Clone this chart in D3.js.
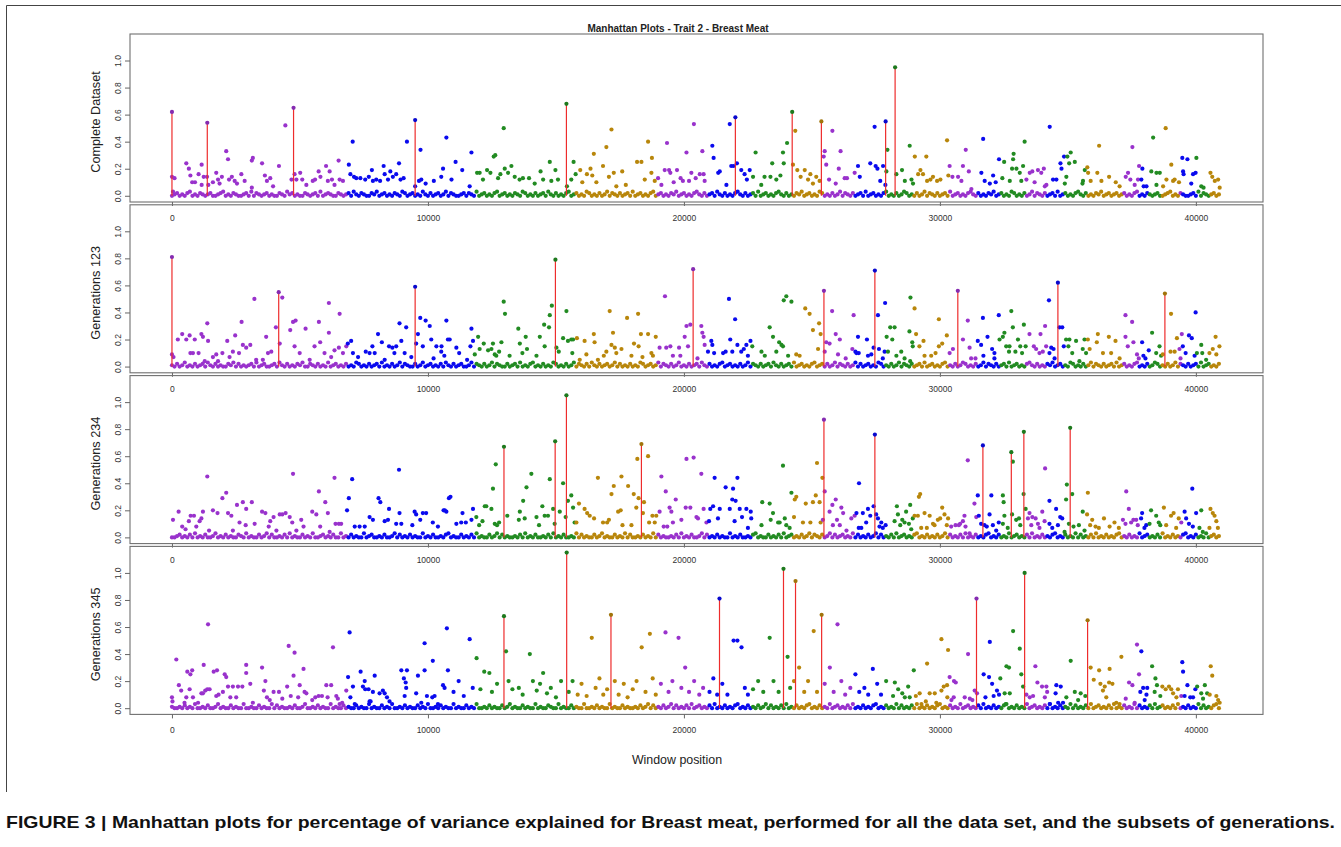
<!DOCTYPE html>
<html><head><meta charset="utf-8">
<script src="https://cdn.jsdelivr.net/npm/d3@7"></script>
<style>body{margin:0;background:#fff}svg{display:block}</style>
</head><body>
<svg id="c" width="1341" height="847"></svg>
<script>
// ---------- DATA ----------
const chartTitle = "Manhattan Plots - Trait 2 - Breast Meat";
const xTitle = "Window position";
const caption = "FIGURE 3 | Manhattan plots for percentage of variance explained for Breast meat, performed for all the data set, and the subsets of generations.";
const panelNames = ["Complete Dataset", "Generations 123", "Generations 234", "Generations 345"];
const xTicks = [0, 10000, 20000, 30000, 40000];
const yTicks = [0, 0.2, 0.4, 0.6, 0.8, 1.0];
const xRange = [0, 40983];
const yRange = [0, 1.15];
// chromosome start windows and colour index (0 purple,1 blue,2 green,3 gold)
const chromStarts = [0, 6810, 11820, 15800, 18970, 20930, 22650, 24250, 25420, 26700, 27900, 29000, 30380, 31460, 32330, 33360, 34200, 34870, 35740, 37130, 37800, 38190, 38660, 39360, 39470, 40020, 40530];
const chromColorIdx = [0, 1, 2, 3, 0, 1, 2, 3, 0, 1, 2, 3, 0, 1, 2, 0, 1, 2, 3, 0, 1, 2, 3, 0, 1, 2, 3];
const palette = ["#9932CC", "#0a0aee", "#228B22", "#B8860B"];

// dense low band: one digit (hundredths) per 100 windows
const base1 = `0120102301 0210120012 3010210012 0302101201 0021031201 0021012030
1210021012 0310210021 3012010210 3201201031 0201201302 1001202103
0120102301 2010210320 1020120310 2010230120 1032010201 3021020120
3012010230 1201021301 2010231020 1203102010 2310201203 0120102310
2010213012 0103201020 1302102012 0301201023 0102013201 0201302102
0120301201 0231020102 1301201032 0102013021 0201203012 0102310201
0213012012 0120102301 0210120012 3010210012 0302101201 0021031201`;
const base2 = `1020130102 0120310201 0021302010 1203012001 2031020102 1300210201
0301201020 1032010201 2030102013 0210020130 1201020310 2012001302
1020130210 0201203010 2301020103 2010201302 1020310201 2013020102
0103201201 3021020130 1020120310 2010230120 1020130210 2012031020
1203012010 2301202013 0210201302 0120103201 0201302102 0120301201
0230102013 2010201302 1020120301 2010231020 1021301201 0320102013
0210201203 0120102301 0201320102 0130210201 2030120102 3102010213`;
const base3 = `0012010203 0102001301 0201002103 0100201302 0010203010 0201030012
0102003010 2010030120 0102001302 0102010030 1020010230 1002010203
0100201302 0100102030 1020010203 0102001030 2010020130 1002010302
0010201030 2010010203 0102001302 0102010030 1020010230 1002010203
0120102013 0210201302 0120103020 1020130201 0203012010 2301020102
0130201020 3010201023 0102010301 2010203010 2010230102 0103020102
0301020102 3010201030 1201020301 0201023010 2010301201 0203010201`;
const base4 = `1001020103 0010200130 1002010030 0100201003 0201001020 0130010201
0030100201 0020100301 0020103001 0201002010 3001020100 3010020103
0010201002 0130100201 0030100210 0301002010 0300102010 0301002010
0102013020 1020130201 0203012010 2030102010 2301020102 0130201020
3010201023 0102010301 2010203010 2010230102 0103020102 0301020102
3010201030 1201020301 0201023010 2010301201 0203010201 0302010203
0120102030 1020103020 1020301201 0203010201 0302010230 1020103020`;

// scattered windows: pairs [position/100, value*100]
const pts1 = [0,14,0.4,3,1,13,5.6,24,6.6,20,7.2,15,7.9,10,9,10,10.4,16,11.6,23,12.4,14,11.6,8,13.7,14,14.2,8,16,10,17.3,17,18,12,18.6,9,19.5,14,21.2,33,21.9,27,22.3,12,23.4,14,24.5,11,25.4,9,27.1,16,28.4,11,31.2,26,31.6,28,31.2,6,35.2,24,36.3,15,37.1,11,38.4,13,39.5,7,41.8,22,44.3,52,46.7,12,47.9,16,48.6,12,50.1,17,50.9,12,52.5,8,55,11,55.9,12,57.3,18,58,14,60.2,22,61.6,18,60.9,11,62.5,12,63.5,8,65.1,26,65.5,12,66.8,11,
69.1,23,69.7,16,70.6,40,71.1,14,72,13,73.6,13,75.5,12,76.9,14,78.1,19,78.5,11,79.8,12,81.3,11,82.7,22,83.1,16,84.4,12,85.3,18,86.3,14,87.6,16,88.7,24,89.3,12,90.5,13,91.8,40,95,7,96.5,11,97.1,34,97.4,12,99.1,9,102.3,11,105.2,14,105.9,20,107.2,43,
109.2,12,110.8,25,113.4,19,117,32,116.3,7,119.2,17,120.2,17,121.5,12,123.1,19,124.4,17,125.7,29,126.3,30,127.4,13,128.3,16,129.6,50,130,20,132.6,22,131.3,17,133.9,14,135.8,12,137.1,13,139.5,13,141.7,9,144,18,145,12,147.6,25,148.2,11,149.8,19,150.8,12,154.3,7,156,12,156.9,25,157.7,16,
159.5,19,160.3,10,162.1,16,163.5,20,164.2,15,164.8,31,165.8,10,168.4,22,169.7,36,170.7,14,171.7,49,172.6,17,173.6,7,175.9,18,177.3,8,181.7,25,183.4,25,184.7,12,186,40,187.3,17,187.5,28,188.6,11,
189.9,13,191.2,8,192.5,19,193.4,39,194.2,19,194.7,17,196,10,197.3,19,198.7,13,199.6,11,201,32,202,11,202.9,17,203.9,53,204.6,13,206.2,16,207.2,33,207.7,16,208.1,11,
211.1,37,211.6,28,213.4,17,214,18,216.6,8,217.9,53,218.5,22,219.4,22,220.7,24,222.4,19,223.7,16,224.6,12,
225.7,19,227,14,228,32,230.2,8,231.5,14,233.8,14,234.5,24,236.1,12,237.7,15,238.7,32,239,24,240.3,39,
242.6,23,243.5,48,244.3,19,245.6,14,247.2,19,248.5,12,249.4,16,250.4,9,251.7,14,253,11,255,33,254.6,29,
255.6,23,256.7,12,258,48,259.3,9,260.5,20,261.2,33,262.8,13,263.7,13,
266.7,17,268,22,268.7,14,272.8,24,274.5,51,274.9,22,275.6,20,276.7,11,277.8,22,278.7,8,279.5,34,279.1,18,
283,16,285.2,19,286.3,11,288.2,37,288.9,12,290.2,29,289.5,9,
291.5,16,292.4,19,293.4,16,294.7,29,295,11,296.3,12,297.3,14,298.9,11,300.2,12,302.8,41,303.3,15,
303.8,22,304.9,14,307.1,14,308.4,11,309,22,310.1,34,311.3,18,312.3,5,
316.2,17,316.9,42,317.5,11,319.5,9,320.8,15,321.8,10,323.1,27,
325.1,25,324.4,13,327.3,11,328.2,20,328.6,27,328.8,31,329.9,20,331.2,17,331.8,11,332.5,22,333.1,40,
333.8,12,335.1,17,336.1,18,337,10,338.3,19,339.6,17,340.6,20,341,7,
341.6,8,342.9,51,344.2,12,345.5,12,347.1,24,347.5,20,348.5,29,349.8,29,348.8,9,349.4,14,
350.5,24,351.1,32,352.7,25,355.9,11,356.6,19,355.7,9,
357.9,17,357.6,21,358.9,11,361.5,17,362.2,37,363.1,11,366.1,14,368.7,10,370.2,7,
372.6,14,373.5,17,374.4,12,375.2,36,376.1,8,377.8,22,377.4,12,379.1,20,378.7,12,379.6,7,380.7,7,
382.6,18,383.3,43,384.6,17,385.9,17,384.6,8,
387.2,7,388.5,12,388.2,50,390.4,23,391.1,11,391.7,12,
393.4,10,394.7,28,395,18,395.2,16,396.7,27,398.2,9,398.9,16,400.2,28,399.9,17,
402.1,7,403,6,405.7,17,406.4,14,407.4,11,408.7,12,409.3,6];
const peaks1 = [0,62,13.8,54,47.5,65,95,56,154.1,68,220.1,58,242.3,62,253.7,55,278.8,55,282.5,95];

const pts2 = [0,9,0.6,7,2.3,20,4,24,5.6,20,6.9,23,8.9,20,7.2,10,8.2,10,10.4,10,11.5,24,12.1,22,13.8,32,14.1,19,12.8,4,16,7,17.3,9,18,4,19.7,10,21.6,19,22.5,7,23.8,11,24.7,23,26.2,10,27.2,33,27.7,16,29,14,30.6,16,32.2,50,32.9,5,35.5,5,36.8,22,37.5,10,38.8,11,40.6,29,43.1,51,42.1,17,46.2,27,47.3,33,48.3,34,47.9,15,49.9,10,52.2,28,53.8,5,55.7,15,57.4,33,57.9,18,59.6,10,61.3,47,61.3,25,62.2,7,63.5,12,65.5,39,65.2,14,66.8,10,
68.1,15,68.7,17,70,19,70.7,10,72.7,7,75.7,11,77.2,10,78.3,15,79.2,10,80.5,24,82,18,83.1,5,84.8,15,86.1,14,86.9,10,87.6,15,88.9,32,89.6,19,91.5,29,90.9,10,93.5,7,95.4,17,96.1,24,97,36,98,15,99.1,34,100.7,30,101.3,20,102.2,6,103.3,15,105.2,11,107.2,34,107.8,20,
105.3,15,106.4,8,108.5,20,111.1,14,112.2,10,115.3,5,117,28,117.6,19,116.6,15,
118.3,9,119.6,22,120.2,13,121.8,17,123.5,12,124.8,13,125.4,17,126.1,9,126.7,8,127.8,11,128.7,18,129.6,48,130.1,39,131.9,8,135.3,28,135.9,17,136.9,10,138.2,22,138.7,13,142.4,8,143.7,22,145.6,15,145.4,31,147.3,29,147.6,38,148.4,45,150.2,14,151.1,11,152.8,21,154.1,41,154.7,19,156,20,156.7,20,156.4,10,
158.2,21,159.3,5,161.2,19,161.9,9,164.8,24,165.1,18,166.4,5,168.7,8,169.7,11,171,41,171.7,16,172.3,25,173,14,173.6,10,175.6,13,177.8,36,179.5,8,180.5,17,182.1,39,182.3,15,183.2,24,183.8,7,186,24,187.3,10,189,22,187.9,8,
190.5,14,192.6,52,193.1,14,194.7,15,195.7,8,198.1,14,198.6,8,200.3,22,201,30,202.5,31,201.6,15,205.3,6,206.8,30,207.2,25,207.7,22,208.1,16,209.4,11,
210.7,19,211.1,16,211.8,10,215.3,10,216.3,11,217.6,50,218.1,20,218.9,11,220,35,220.9,16,222.4,11,223.4,13,224.4,16,225,8,
226,19,226.7,15,230.3,11,231.6,8,233.5,29,234.8,22,236.1,11,237.2,18,238.1,16,238.7,15,239,49,240,52,242,48,240.7,8,
243.9,9,245.2,8,247.4,43,249.1,39,250.4,27,252.8,32,253.4,24,252.4,13,255,11,
255.6,18,256.9,17,257.9,41,259.3,24,260.9,20,260.2,9,263.2,6,265.8,13,
266.3,38,268,22,267.4,10,267,11,268.3,10,271.5,20,271.9,8,273.2,9,274.1,14,275.8,38,276.2,13,277.7,6,278.4,11,278.6,47,
279.2,22,279.7,11,280.6,29,282.3,29,281.4,20,283,8,284.9,11,286.2,6,288.1,26,288.5,51,290.1,43,289.2,18,289.4,15,288.4,4,
290.7,24,292,15,293.6,19,294,8,296.6,8,298.3,10,299.6,35,299.6,15,300.9,17,302.7,23,303.8,10,
305.1,13,309,20,310.9,34,311.6,14,312.2,6,313.9,6,
314.8,19,316.1,16,316.8,36,317,8,318.6,22,320.4,13,321.3,10,321.3,6,323,38,323.3,20,
324.6,22,325.2,25,325.9,15,327.2,15,327,11,327.9,41,328.5,29,329.5,11,330.5,20,331.4,15,332.1,10,332.8,31,333.5,15,
335,24,336.7,15,337.6,13,338.9,10,339.3,24,340.2,11,341.1,30,
342.6,49,341.5,15,342.8,10,343.5,14,344.4,13,344.8,6,346.7,29,347.8,29,348.4,15,
349.3,20,350.6,20,350.2,15,351.7,10,353.2,19,354.5,4,355.8,13,356.5,20,357.1,10,
357.8,20,358.5,13,361.7,24,361.3,18,363.7,10,366,22,366.9,10,368.6,19,370.2,6,
372.5,38,372.5,22,373.4,15,375.1,33,375.6,18,377,9,377.7,6,
379,18,379.5,8,380.3,6,381.6,12,382.9,25,384.5,10,385.8,15,386.4,8,
387.1,9,390.3,39,390.1,11,391.7,11,392.6,21,393.6,13,394.5,24,394,6,
394.9,15,396,10,397.3,23,398.4,21,399.9,40,399.5,8,400.4,10,402.1,16,402.5,10,404,5,
405.3,10,406.6,13,407.7,22,409.2,15,408,9];
const peaks2 = [0,81,41.7,55,95,59,149.8,79,203.6,72,254.7,56,274.6,71,307,56,346.1,62,387.9,54];

const pts3 = [0.4,13,2.6,19,4,8,5.3,6,6.6,12,7.3,16,8.6,16,9.5,8,10.8,12,11.5,14,12.1,19,13.8,45,14.5,5,16,20,17.8,18,19.7,29,21.2,33,21.9,18,23.2,16,23.8,5,25.4,24,26.4,11,27.7,26,29,21,28.8,9,31.2,26,32.3,10,35.2,19,36.5,18,37.8,8,38.4,12,39.7,15,40.8,5,42.1,17,43.1,17,44.4,18,46,15,47.3,47,47,11,48.6,5,50.5,13,51.4,8,54.8,19,56.4,17,57.4,34,57.9,8,59.9,26,60.9,18,61.6,4,63.5,44,63.9,10,65.2,10,66.1,10,
68.4,20,69.1,29,70.4,43,71.4,8,73.3,8,75.3,8,77.2,15,78.5,13,80.7,29,81.4,26,83.1,12,84.4,13,84.8,21,87.6,10,88.7,50,88.9,18,89.6,10,93.9,9,94.8,19,95.4,17,97,13,98,18,99.3,18,101.9,11,103.9,8,106.1,20,107.2,19,108.2,29,
108.8,30,106.6,20,111.1,10,113.5,18,114.8,11,113,11,117.6,21,117,13,
118.9,15,120,9,121.3,12,122.2,23,122.8,23,124.8,21,125.4,36,126.5,54,126.1,10,127,9,127.8,11,131,16,135.9,19,135.5,13,137.2,27,137.8,14,138.5,37,140.4,47,142.4,15,143.4,9,144.7,23,145.6,16,146.9,16,147.6,43,148.9,21,149.5,10,151.5,19,152.8,40,153.8,15,154.7,27,156,31,156.7,22,157.3,11,158,11,
159,25,161.2,21,162.2,18,163.2,16,164.9,14,166.4,44,168.4,11,170,11,170.7,13,171.7,32,172.6,38,174.3,19,175.3,20,175.6,45,176,9,178.2,38,179.5,9,180.4,32,181.4,22,181.8,58,182.3,29,184.4,26,186,60,184,18,186.4,11,187.7,16,189.2,16,188.6,11,
190.5,19,191.2,45,192.9,34,192.1,8,193.5,8,194.4,22,195.1,19,196.8,28,195.7,11,199,13,200.7,22,201,58,202.5,22,203.8,59,204.9,15,205.5,14,206.8,47,207.7,21,208.8,11,209.8,12,
210.3,21,211.4,23,212,44,213.3,14,214,21,216.3,37,217.9,21,219.2,36,218.9,28,220.2,27,219.8,12,220.9,44,221.8,21,222.7,15,224.4,21,225,7,
226.3,14,226.1,19,230.6,26,230.3,9,233.5,25,233.9,13,234.8,18,236.8,11,237.4,11,238.7,53,239.4,14,240,9,241.3,7,242,33,
243,15,243.9,30,243.3,28,246.5,11,247.6,25,249.4,11,250.4,26,251.5,31,252,55,253,26,254.1,44,253.4,11,255,34,254.3,13,
256.9,19,258,24,259.3,28,259.8,13,258.2,9,260.9,9,261.5,22,262.2,18,263.5,5,265.4,14,266.7,16,267.4,18,268.4,40,
268.3,7,269.3,7,269.9,18,271.2,11,271.9,21,272.8,16,274.1,23,275.1,17,275.8,14,276.4,8,277.1,11,277.7,7,278.8,9,
282.3,12,283.2,23,283.6,17,284.5,9,285.3,13,286.2,11,286.8,19,287.9,10,288.4,24,288.8,6,289.4,14,290.1,16,
291.4,16,291.8,30,292.3,32,292.7,7,294,18,294.9,7,296,16,297.3,10,297.9,9,299.2,13,300.1,14,300.9,22,301.8,17,302.7,9,303.2,14,
304.4,8,306.1,9,307.4,9,307.9,10,309,12,309.6,16,310,8,310.9,57,311.6,3,313.5,25,314.2,15,314.8,31,315.2,16,
316.1,10,317.4,9,318.3,8,319.4,17,320.1,31,320.7,9,322,5,323,11,
324.6,31,324.9,26,324.6,10,325.2,16,326.5,7,328.5,56,328.2,17,329.8,13,330.9,14,331.4,9,332.7,32,333.5,21,
334.4,14,335,18,336.1,15,335.7,9,337.4,14,338.3,10,338.9,7,340,19,340.9,12,341.1,51,
342.8,27,342.8,10,343.9,7,345.4,21,346.1,9,347,15,347.8,14,348.7,4,
349.6,39,349.3,28,350.4,10,351.7,32,352.2,8,354.3,9,355.8,19,356.5,5,
357.5,17,357.8,33,358.7,9,359.5,13,360.8,8,362.1,7,364.1,14,366.3,8,368.2,11,369.9,7,
371.5,13,372.8,34,373.8,21,372.5,10,374.7,11,375.6,13,376.7,13,377.3,9,
379,18,378.6,14,379.9,7,380.6,9,382.5,20,381.9,10,384.5,16,385.5,11,386.1,9,
387.5,22,388.4,9,390.3,16,391.3,18,392.3,7,393.3,14,394.3,11,
395.6,19,396.2,14,397.3,10,398.6,36,398.8,8,400.1,18,402.1,20,401.4,7,402.7,4,
405.7,21,406.6,18,407.3,16,408,12,405.3,7,408.6,7];
const peaks3 = [129.7,67,149.7,71,154.1,105,183.4,69,254.7,87,274.6,76,316.8,68,327.9,63,332.8,78,350.9,81];

const pts4 = [0,8,0.2,5,1.7,36,2.7,17,3.6,13,4.9,4,5.6,8,6,27,7.2,25,7.9,28,6.9,14,8.2,8,10.2,4,11.5,11,12.1,11,12.4,32,13,13,13.8,14,14.1,62,14.7,14,16.3,27,17.3,9,17.6,28,18.2,10,19.9,12,20.6,25,21.2,23,21.9,16,22.8,8,23.8,16,25.1,8,25.8,16,27.5,16,29,26,29,32,30.6,18,31.6,4,35.2,30,35.9,13,36.5,20,37.1,8,38.2,6,39.7,12,41.8,12,43.1,7,45,16,45.6,46,46.4,9,47.5,24,47.9,41,49.3,8,49.9,17,51.4,29,51.8,12,52.5,11,54.8,6,56,8,57.3,9,58.6,9,60.3,17,60.8,8,62.2,17,62.9,45,64.2,9,64.8,7,65.5,3,66.5,4,
68.1,13,68.8,23,69.4,56,69.7,8,70.7,16,71.4,3,73.7,27,74.6,16,75.3,20,75.5,14,76.8,14,77.2,5,79.2,24,77.6,5,78.5,12,81.1,11,82.4,13,83.1,11,84,8,85,5,89.6,28,90.6,22,91.3,19,91.5,15,91.8,28,90.9,9,95.4,11,96.1,24,97.4,4,98.7,48,98.7,28,99.6,9,101.7,8,101.9,35,102.6,9,103.9,3,105.9,17,106.5,15,107.4,59,107.8,28,
110,12,112,20,114,9,116.3,51,117.5,15,
119,37,120.5,14,122,27,124,26,125,12,127,18,130.5,42,131.5,20,133,14,135.5,15,137,10,139.8,40,141,20,142.5,13,143.8,18,145,26,146.5,11,148,15,150,8,152,20,155,12,156.5,20,
158.5,10,160,18,162,9,164,52,165.5,15,167,22,168.5,10,170,14,173,20,174.5,10,176.5,18,178,8,180,14,181.5,20,183.5,45,185,12,186.7,55,187.8,22,189,10,
191,18,192.8,56,194,12,195.5,20,197.9,52,199,15,200.5,30,202,12,204,20,206,10,207.5,15,
210,12,211.5,22,213,10,215,18,217,10,219.4,50,220.9,50,222.5,45,223.8,15,225,10,
227,14,229,20,231,12,233.5,52,235,20,237,12,240.5,38,241.5,15,
243,20,245,30,247,12,248.5,20,250.7,57,252,12,
255,18,257,30,258.5,12,260,62,261.5,20,263,10,265,15,
267,25,268.5,12,270.5,15,272,10,273.8,29,275.5,18,277,10,279,20,
282.4,19,281.7,9,283.7,14,285.3,11,286.3,8,287.6,16,288.2,8,289.8,28,290.6,9,
292.1,11,292.8,3,294.5,5,295,33,296,11,298,11,298.6,4,300.6,51,300.6,13,301.5,16,302.8,17,303.2,43,302.9,8,
303.8,23,304.5,6,305.5,20,306.2,19,305.4,8,309.7,8,311,40,311.7,7,312.7,6,313.6,13,314.5,11,
317.1,25,317.8,8,319.2,23,319.5,49,320.4,18,321,9,322.3,13,323.1,10,323.6,22,
325.3,11,326,31,327,30,325.7,3,327.3,11,328.6,57,331.2,44,331.8,25,332.5,16,333.8,10,
335.1,8,336.4,9,337.3,31,338.1,19,339.9,16,341.6,16,341.9,12,341,8,
342.9,3,345.5,17,347.2,16,345.2,11,346.2,4,348.1,4,
349.4,8,351.1,35,352.7,12,354,6,355,11,356.8,9,
358.9,30,360.1,21,362.2,28,362.7,18,363.7,13,364.4,16,365,8,366.3,29,366.1,19,367.4,18,368.9,4,370.9,38,370.2,3,
372.6,7,373.9,19,375.2,17,376.1,4,377,47,377.8,25,378.3,12,
378.7,42,379.4,15,380,6,381,15,380.7,10,
382.9,31,384.2,22,384.8,17,383.9,12,386.1,9,
386.9,16,388.2,14,389.5,16,390.4,14,391.1,11,392.4,8,393,14,
394.7,34,394.3,9,395,27,395.6,9,396.7,17,397.8,8,398.9,8,399.8,14,400.5,16,
402.1,11,403.5,17,402.8,7,404.4,11,
405.8,31,406.4,24,405.4,10,408,9,408.7,6,409.3,4];
const peaks4 = [129.7,68,154.2,115,171.5,69,213.9,81,238.9,103,243.6,94,253.8,69,314.3,81,333.1,100,357.7,65];

const panelBase = [base1, base2, base3, base4];
const panelPts = [pts1, pts2, pts3, pts4];
const panelPeaks = [peaks1, peaks2, peaks3, peaks4];

// ---------- DRAW ----------
const svg = d3.select("#c");
const left = 130, right = 1263, ph = 168, pstep = 170.8, top0 = 34;
const xpad = 0.04 * (xRange[1] - xRange[0]);
const ypad = 0.04 * (yRange[1] - yRange[0]);
const x = d3.scaleLinear().domain([xRange[0] - xpad, xRange[1] + xpad]).range([left, right]);
const fam = "Liberation Sans, Arial, Helvetica, sans-serif";

function colorOf(pos) {
  const i = Math.max(0, d3.bisectRight(chromStarts, pos) - 1);
  return palette[chromColorIdx[i]];
}
function pairs(arr) {
  const out = [];
  for (let i = 0; i + 1 < arr.length; i += 2) out.push({ pos: arr[i] * 100, v: arr[i + 1] / 100 });
  return out;
}

// outer figure frame
svg.append("path").attr("d", "M6.5,792 V5.5 H1341").attr("fill", "none").attr("stroke", "#444").attr("stroke-width", 1);

svg.append("text").attr("x", 678).attr("y", 32).attr("text-anchor", "middle")
  .attr("font-family", fam).attr("font-weight", "bold").attr("font-size", 10).attr("fill", "#222").text(chartTitle);

panelNames.forEach((name, k) => {
  const top = top0 + k * pstep;
  const y = d3.scaleLinear().domain([yRange[0] - ypad, yRange[1] + ypad]).range([top + ph, top]);
  const g = svg.append("g");

  const baseDigits = panelBase[k].replace(/\s/g, "").split("").map(Number);
  const base = baseDigits.map((d, i) => ({ pos: i * 100, v: d / 100 })).filter(d => d.pos <= xRange[1]);
  const pts = base.concat(pairs(panelPts[k]));
  const peaks = pairs(panelPeaks[k]);

  g.append("g").selectAll("circle").data(pts).join("circle")
    .attr("cx", d => x(d.pos)).attr("cy", d => y(d.v)).attr("r", 2.1)
    .attr("fill", d => colorOf(d.pos));

  g.append("g").selectAll("line").data(peaks).join("line")
    .attr("x1", d => x(d.pos)).attr("x2", d => x(d.pos))
    .attr("y1", y(0)).attr("y2", d => y(d.v))
    .attr("stroke", "#ee2c2c").attr("stroke-width", 1.2);

  g.append("g").selectAll("circle").data(peaks).join("circle")
    .attr("cx", d => x(d.pos)).attr("cy", d => y(d.v)).attr("r", 2.1)
    .attr("fill", d => d3.color(colorOf(d.pos)).darker(0.4));

  g.append("rect").attr("x", left).attr("y", top).attr("width", right - left).attr("height", ph)
    .attr("fill", "none").attr("stroke", "#707070").attr("stroke-width", 1.1);

  // y axis
  const ya = g.append("g").attr("transform", `translate(${left},0)`)
    .call(d3.axisLeft(y).tickValues(yTicks).tickSize(5).tickFormat(d3.format(".1f")));
  ya.select(".domain").remove();
  ya.selectAll("line").attr("stroke", "#666");
  ya.selectAll("text").attr("transform", "rotate(-90)").attr("x", 0).attr("y", -9).attr("dy", 0)
    .attr("text-anchor", "middle").attr("font-family", fam).attr("font-size", 8.5).attr("fill", "#333");

  // x axis
  const xa = g.append("g").attr("transform", `translate(0,${top + ph})`)
    .call(d3.axisBottom(x).tickValues(xTicks).tickSize(4).tickPadding(9).tickFormat(d3.format("d")));
  xa.select(".domain").remove();
  xa.selectAll("line").attr("stroke", "#666");
  xa.selectAll("text").attr("font-family", fam).attr("font-size", 8.5).attr("fill", "#333");

  // panel label
  g.append("text").attr("transform", `translate(100,${top + ph / 2 + 4}) rotate(-90)`)
    .attr("text-anchor", "middle").attr("font-family", fam).attr("font-size", 12.7).attr("fill", "#222").text(name);
});

svg.append("text").attr("x", 677).attr("y", 764).attr("text-anchor", "middle")
  .attr("font-family", fam).attr("font-size", 12.4).attr("fill", "#222").text(xTitle);

svg.append("text").attr("x", 6).attr("y", 828).attr("font-family", fam).attr("font-weight", "bold")
  .attr("font-size", 17).attr("textLength", 1329).attr("lengthAdjust", "spacingAndGlyphs")
  .attr("fill", "#111").text(caption);
</script>
</body></html>
